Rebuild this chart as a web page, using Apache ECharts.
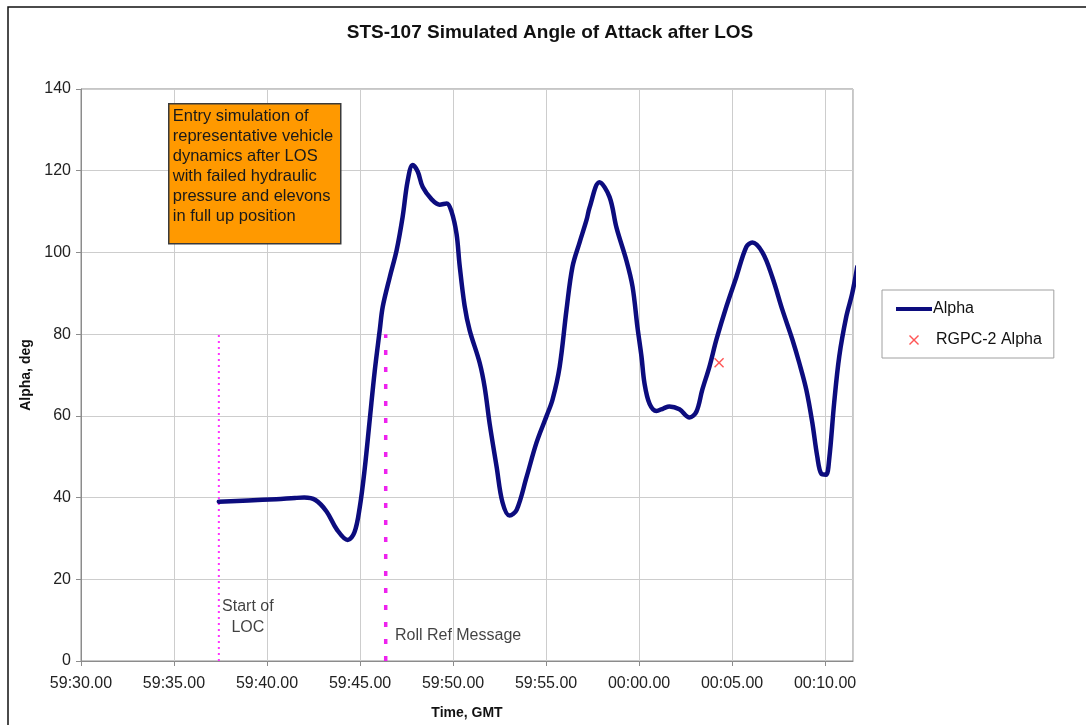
<!DOCTYPE html>
<html>
<head>
<meta charset="utf-8">
<script src="https://cdn.jsdelivr.net/npm/echarts@6/dist/echarts.min.js"></script>
<style>
  html, body { margin: 0; padding: 0; background: #fff; }
  #chart { width: 1086px; height: 725px; }
</style>
</head>
<body>
<div id="chart"></div>
<script>
// Seconds elapsed since 59:30.00 GMT
const alphaTime = [
  7.41, 9.0, 10.5, 11.5, 12.0, 12.6, 13.2, 13.75, 14.34, 14.7, 14.98, 15.25, 15.52, 15.79, 16.06,
  16.22, 16.6, 16.97, 17.29, 17.56, 17.83, 18.1, 18.37, 18.85, 19.28, 19.66, 19.92, 20.19, 20.35,
  20.62, 20.89, 21.43, 21.7, 21.97, 22.34, 22.66, 23.04, 23.42, 23.95, 24.49, 25.03, 25.35, 25.73,
  26.1, 26.42, 26.8, 27.18, 27.34, 27.87, 28.41, 28.79, 29.32, 29.65, 29.91, 30.13, 30.29, 30.56,
  30.93, 31.3, 31.63, 32.17, 32.71, 33.08, 33.4, 33.78, 34.16, 34.69, 35.23, 35.77, 36.09, 36.63,
  37.16, 37.7, 38.24, 38.61, 38.99, 39.31, 39.58, 39.8, 40.05, 40.22, 40.49, 40.76, 41.14, 41.46, 41.73
];
// Angle of attack, deg
const alphaValue = [
  39.0, 39.3, 39.6, 39.9, 40.0, 39.4, 36.6, 32.2, 29.6, 31.5, 37.5, 47.0, 59.0, 71.0, 81.0,
  86.7, 94.0, 100.6, 108.7, 117.5, 121.4, 119.8, 116.0, 113.0, 111.7, 112.0, 110.0, 104.5, 97.0,
  87.0, 81.0, 73.0, 67.0, 58.0, 47.6, 38.8, 35.6, 37.0, 45.0, 53.5, 60.0, 64.0, 72.0,
  86.0, 96.5, 102.4, 108.0, 111.0, 117.2, 113.6, 106.0, 98.0, 91.6, 81.8, 74.5, 68.0, 63.0,
  61.2, 61.8, 62.3, 61.6, 59.6, 61.0, 66.4, 72.0, 78.7, 86.7, 94.0, 101.4, 102.4, 100.0,
  94.0, 86.0, 78.7, 73.0, 66.4, 58.4, 50.0, 45.8, 45.6, 49.4, 63.3, 74.5, 84.3, 90.0, 96.5
];

// RGPC-2 measured alpha
const rgpcTime = [34.3];
const rgpcValue = [73.0];

// Event markers (seconds since 59:30.00)
const eventNames = ['Start of\nLOC', 'Roll Ref Message'];
const eventTime = [7.41, 16.38];
const eventTop = [80, 80];
const eventLabelPos = [[8.97, 10.7], [20.27, 6.2]];

const xTickLabels = ['59:30.00', '59:35.00', '59:40.00', '59:45.00', '59:50.00',
                     '59:55.00', '00:00.00', '00:05.00', '00:10.00'];
const yTicks = [0, 20, 40, 60, 80, 100, 120, 140];

const noteLines = [
  'Entry simulation of',
  'representative vehicle',
  'dynamics after LOS',
  'with failed hydraulic',
  'pressure and elevons',
  'in full up position'
];

const FONT = '"Liberation Sans", Arial, sans-serif';
const crossIcon = 'path://M0,1L1,0L5,4L9,0L10,1L6,5L10,9L9,10L5,6L1,10L0,9L4,5Z';
const barIcon = 'path://M0,0L36,0L36,4L0,4Z';

const chart = echarts.init(document.getElementById('chart'), null, { renderer: 'canvas' });

const alphaData = alphaTime.map((t, i) => [t, alphaValue[i]]);
const rgpcData = rgpcTime.map((t, i) => [t, rgpcValue[i]]);

const option = {
  backgroundColor: '#ffffff',
  animation: false,
  textStyle: { fontFamily: FONT },
  title: {
    text: 'STS-107 Simulated Angle of Attack after LOS',
    left: 545,
    textAlign: 'center',
    top: 18,
    textStyle: { fontFamily: FONT, fontSize: 19, fontWeight: 'bold', color: '#111' }
  },
  grid: {
    left: 81, top: 89, right: 233, bottom: 63,
    show: true, borderColor: '#8c8c8c', borderWidth: 1, backgroundColor: 'transparent'
  },
  legend: {
    orient: 'vertical',
    left: 882, top: 290,
    padding: [11, 12, 10, 14],
    itemGap: 15,
    itemWidth: 36,
    itemHeight: 10,
    borderColor: '#a0a0a0',
    borderWidth: 1,
    backgroundColor: '#fff',
    textStyle: { fontFamily: FONT, fontSize: 16, color: '#111', padding: [0, 0, 0, -4] },
    data: [
      { name: 'Alpha', icon: barIcon, itemStyle: { color: '#0c0c7e' } },
      { name: 'RGPC-2 Alpha', icon: crossIcon, textStyle: { padding: [0, 0, 0, -1] } }
    ]
  },
  xAxis: {
    type: 'value',
    min: 0, max: 41.5, interval: 5,
    name: 'Time, GMT',
    nameLocation: 'middle',
    nameGap: 45,
    nameTextStyle: { fontFamily: FONT, fontSize: 14, fontWeight: 'bold', color: '#111' },
    axisLine: { show: true, lineStyle: { color: '#8c8c8c', width: 1 } },
    axisTick: { show: true, length: 5, lineStyle: { color: '#8c8c8c' } },
    axisLabel: {
      fontFamily: FONT, fontSize: 16, color: '#222', margin: 15,
      showMaxLabel: false,
      formatter: v => xTickLabels[Math.round(v / 5)] || ''
    },
    splitLine: { show: true, lineStyle: { color: '#cdcdcd', width: 1 } }
  },
  yAxis: {
    type: 'value',
    min: yTicks[0], max: yTicks[yTicks.length - 1], interval: 20,
    name: 'Alpha, deg',
    nameLocation: 'middle',
    nameGap: 45,
    nameTextStyle: { fontFamily: FONT, fontSize: 14, fontWeight: 'bold', color: '#111' },
    axisLine: { show: true, lineStyle: { color: '#8c8c8c', width: 1 } },
    axisTick: { show: true, length: 5, lineStyle: { color: '#8c8c8c' } },
    axisLabel: { fontFamily: FONT, fontSize: 16, color: '#222', margin: 10 },
    splitLine: { show: true, lineStyle: { color: '#cdcdcd', width: 1 } }
  },
  series: [
    {
      name: 'Start of LOC line',
      type: 'line',
      data: [[eventTime[0], 0], [eventTime[0], eventTop[0]]],
      symbol: 'none',
      silent: true,
      lineStyle: { color: '#ff33ff', width: 2, type: [2, 4] },
      z: 1
    },
    {
      name: 'Roll Ref line',
      type: 'line',
      data: [[eventTime[1], 0], [eventTime[1], eventTop[1]]],
      symbol: 'none',
      silent: true,
      lineStyle: { color: '#ee22ee', width: 3.5, type: [5, 12] },
      z: 1
    },
    {
      name: 'Event labels',
      type: 'scatter',
      silent: true,
      symbolSize: 0,
      data: eventLabelPos.map((p, i) => ({ value: p, name: eventNames[i] })),
      label: {
        show: true,
        position: 'inside',
        formatter: p => p.name,
        fontFamily: FONT, fontSize: 16, color: '#111', lineHeight: 21, align: 'center'
      },
      z: 3
    },
    {
      name: 'Alpha',
      type: 'line',
      data: alphaData,
      smooth: 0.35,
      symbol: 'none',
      clip: false,
      color: '#0c0c7e',
      lineStyle: { color: '#0c0c7e', width: 4.5, cap: 'round', join: 'round' },
      z: 4
    },
    {
      name: 'RGPC-2 Alpha',
      type: 'scatter',
      data: rgpcData,
      symbol: crossIcon,
      symbolSize: 10,
      color: '#ff2a2a',
      itemStyle: { color: '#ff2a2a' },
      z: 5
    }
  ],
  graphic: [
    {
      type: 'rect',
      shape: { x: 8, y: 7, width: 1100, height: 730 },
      style: { fill: 'none', stroke: '#111', lineWidth: 1.5 },
      silent: true, z: 100
    },
    {
      type: 'group',
      left: 168, top: 103,
      z: 50,
      children: [
        {
          type: 'rect',
          z: 50,
          shape: { x: 0, y: 0, width: 172, height: 140 },
          style: { fill: '#ff9900', stroke: '#3a3a3a', lineWidth: 1.5 }
        },
        {
          type: 'text',
          z: 51,
          x: 4, y: 3,
          style: {
            text: noteLines.join('\n'),
            font: '16.5px ' + FONT,
            lineHeight: 20,
            fill: '#1a1a1a'
          }
        }
      ]
    }
  ]
};

chart.setOption(option);
</script>
</body>
</html>
